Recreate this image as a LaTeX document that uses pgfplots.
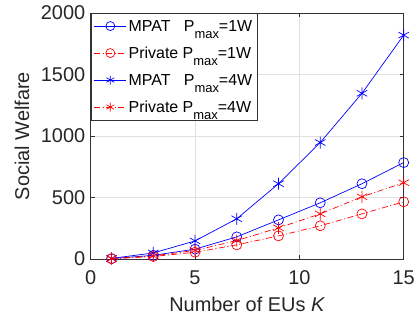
\documentclass[border=0pt]{standalone}
\usepackage{pgfplots}
\pgfplotsset{compat=1.18}
\usepackage{fontspec}
\setmainfont{Liberation Sans}
\newcommand\pmax{P\raisebox{-7bp}[0pt][0pt]{\fontsize{13}{13}\selectfont max}}
\begin{document}
\begin{tikzpicture}
\begin{axis}[
  scale only axis,
  width=313bp, height=246bp,
  xmin=0, xmax=15, ymin=0, ymax=2000,
  xtick={0,5,10,15}, ytick={0,500,1000,1500,2000},
  grid=major, major grid style={black!12, line width=0.5pt},
  axis line style={black!80, line width=0.6pt}, tick style={black!80, line width=0.6pt},
  major tick length=4bp,
  tick align=inside, tick pos=both,
  ticklabel style={font=\fontsize{20}{24}\selectfont, text=black!85},
  xticklabel style={yshift=-8bp},
  yticklabel style={xshift=-2bp},
  /pgf/number format/assume math mode=true,
  /pgf/number format/1000 sep={},
  xlabel={Number of EUs \textit{K}}, ylabel={Social Welfare},
  label style={font=\fontsize{20}{24}\selectfont, text=black!85},
  xlabel style={at={(axis description cs:0.5,-0.214)}, anchor=base},
  ylabel style={at={(axis description cs:-0.2195,0.5)}, anchor=center},
  legend cell align=left,
  legend image code/.code={\draw[mark size=4.5bp, mark repeat=2,mark phase=2] plot coordinates {(0bp,0bp) (16bp,0bp) (32bp,0bp)};},
  legend style={at={(0,1)}, anchor=north west, font=\fontsize{16}{18}\selectfont, draw=black!80, line width=0.6pt, fill=white,
    inner xsep=3bp, inner ysep=5bp, row sep=11.5bp, column sep=0bp,
    nodes={inner sep=2bp, text height=11.5bp, text depth=0bp}},
  every axis plot/.append style={line width=0.7pt},
  ddot/.style={dash pattern=on 6bp off 2.5bp on 1bp off 2.5bp},
]
\addplot[blue, mark=o, mark size=5bp] coordinates {(1,3)(3,30)(5,80)(7,180)(9,318)(11,457)(13,612)(15,784)};
\addlegendentry{MPAT\ \ \ \pmax=1W}
\addplot[red, ddot, mark=o, mark size=5bp, mark options={solid}] coordinates {(1,2)(3,20)(5,55)(7,115)(9,188)(11,270)(13,367)(15,465)};
\addlegendentry{Private \pmax=1W}
\addplot[blue, mark=asterisk, mark size=6bp] coordinates {(1,5)(3,49)(5,147)(7,327)(9,612)(11,947)(13,1347)(15,1820)};
\addlegendentry{MPAT\ \ \ \pmax=4W}
\addplot[red, ddot, mark=asterisk, mark size=6bp, mark options={solid}] coordinates {(1,3)(3,25)(5,70)(7,150)(9,253)(11,367)(13,506)(15,620)};
\addlegendentry{Private \pmax=4W}
\end{axis}
\pgfresetboundingbox
\useasboundingbox (-90.7bp,-59bp) rectangle (325.3bp,259bp);
\end{tikzpicture}
\end{document}
